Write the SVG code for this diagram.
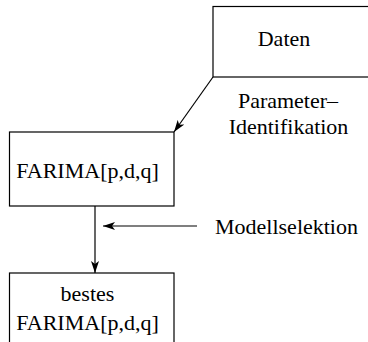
<svg xmlns="http://www.w3.org/2000/svg" width="368" height="342" viewBox="0 0 368 342">
<style>
.box{fill:none;stroke:#000;stroke-width:1.2}
.ln{fill:none;stroke:#000;stroke-width:1.2}
text{font-family:"Liberation Serif","Times New Roman",serif;font-size:22px;fill:#000;text-anchor:middle}
</style>
<defs>
<marker id="ah" viewBox="0 0 12 8" refX="12" refY="4" markerWidth="12" markerHeight="8" markerUnits="userSpaceOnUse" orient="auto">
<path d="M0,0 L12,4 L0,8 L3,4 Z" fill="#000"/>
</marker>
</defs>
<g id="daten">
<rect class="box" x="213" y="6.5" width="170" height="70.5"/>
<text x="284" y="46">Daten</text>
</g>
<g id="farima">
<rect class="box" x="9.5" y="132" width="164.5" height="74"/>
<text x="87.5" y="178">FARIMA[p,d,q]</text>
</g>
<g id="bestes">
<rect class="box" x="9.5" y="273" width="164.5" height="90"/>
<text x="87.5" y="301">bestes</text>
<text x="87.5" y="330">FARIMA[p,d,q]</text>
</g>
<g id="labels">
<text x="288" y="108">Parameter–</text>
<text x="288.5" y="133.5">Identifikation</text>
<text x="286.5" y="234">Modellselektion</text>
</g>
<g id="connectors">
<line class="ln" x1="213" y1="77" x2="174" y2="132" marker-end="url(#ah)"/>
<line class="ln" x1="95" y1="206" x2="95" y2="273" marker-end="url(#ah)"/>
<line class="ln" x1="197" y1="226" x2="103" y2="226" marker-end="url(#ah)"/>
</g>
</svg>
